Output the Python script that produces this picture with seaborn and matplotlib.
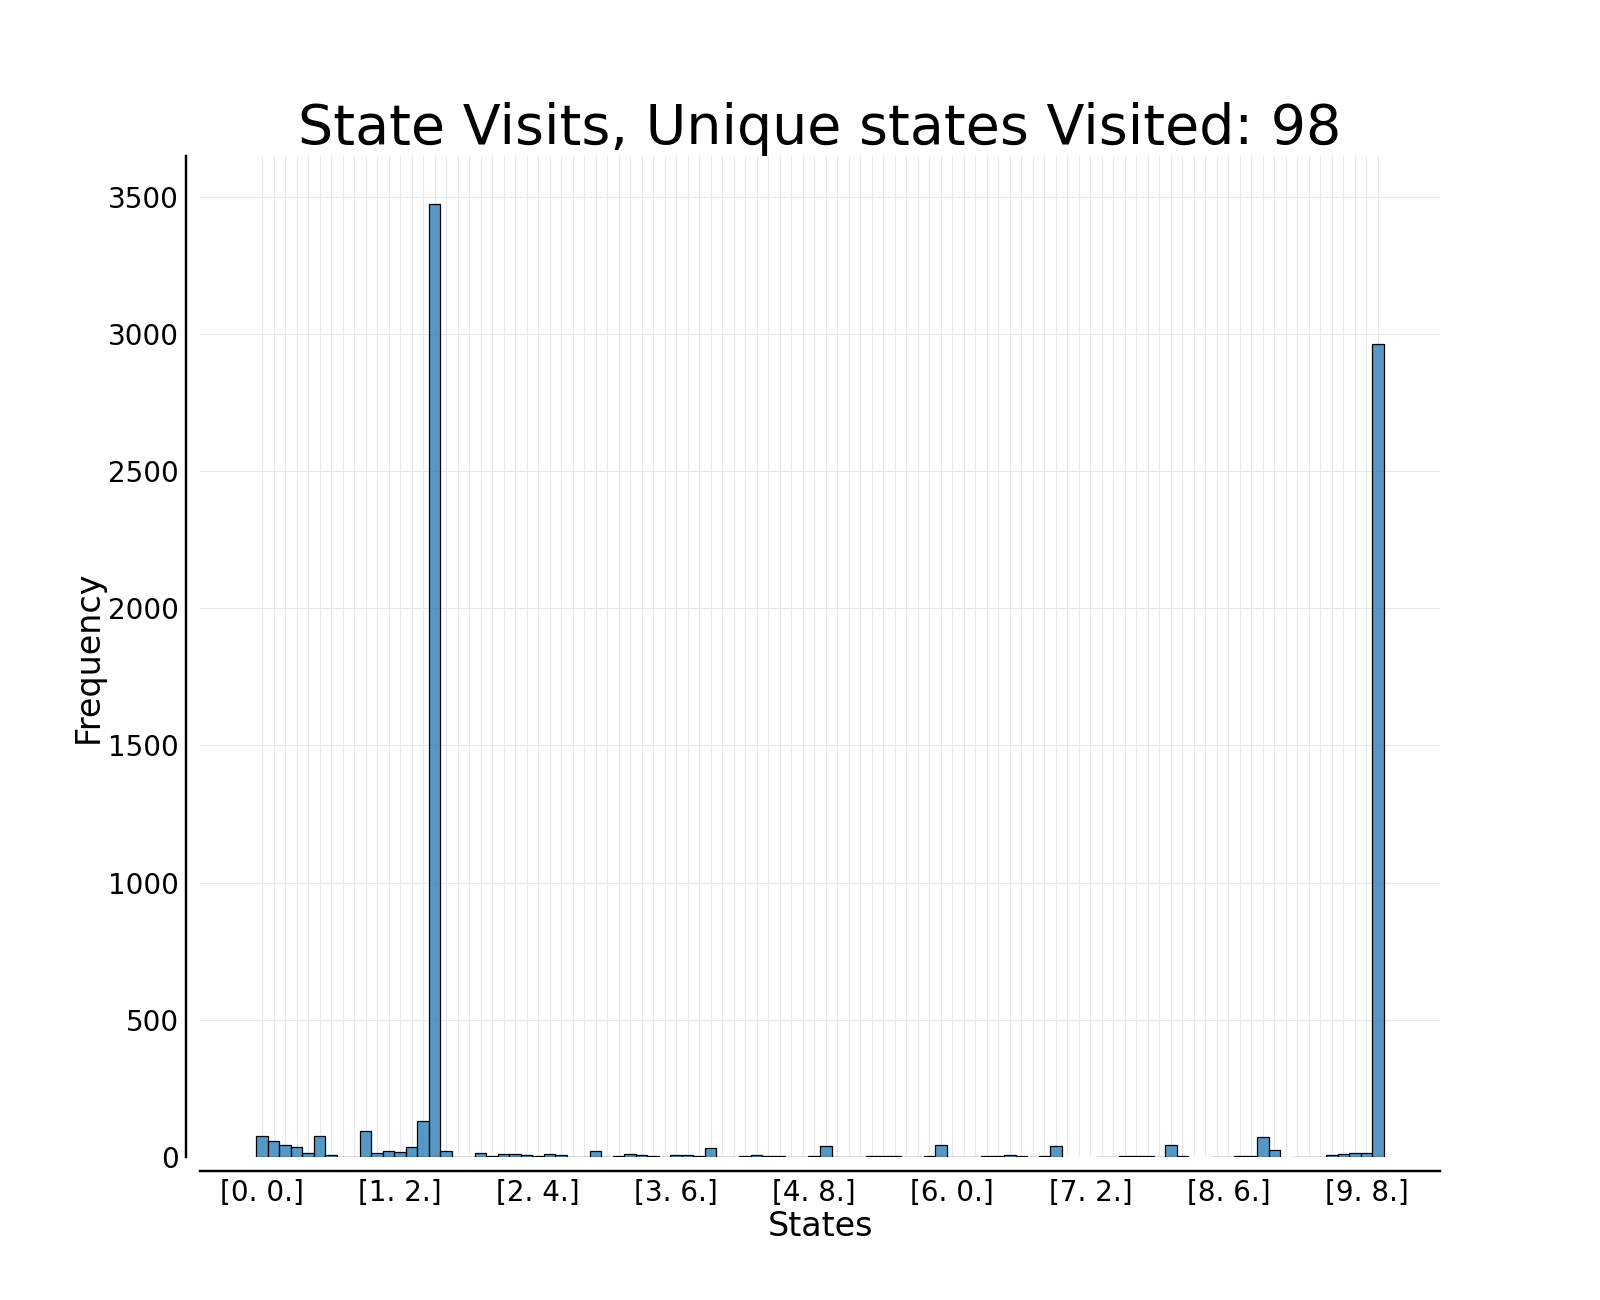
import matplotlib
matplotlib.use('Agg')
import matplotlib.pyplot as plt
import seaborn as sns
import pandas as pd
import numpy as np

# visit counts per state index (0 = not visited)
visit_counts = [
    78, 60, 45, 38, 16, 78, 6, 1, 1, 96,
    16, 23, 20, 38, 132, 3474, 22, 1, 1, 15,
    5, 11, 11, 7, 5, 11, 7, 1, 1, 22,
    1, 4, 11, 7, 4, 1, 7, 7, 4, 33,
    1, 1, 4, 7, 4, 4, 1, 1, 4, 40,
    1, 1, 1, 4, 4, 4, 1, 1, 4, 45,
    1, 1, 1, 4, 4, 7, 4, 1, 4, 40,
    0, 0, 0, 1, 1, 4, 4, 4, 1, 44,
    4, 0, 0, 1, 1, 4, 4, 73, 26, 0,
    1, 1, 1, 7, 12, 15, 15, 2963,
]
tick_labels = ['[0. 0.]', '[1. 2.]', '[2. 4.]', '[3. 6.]', '[4. 8.]',
               '[6. 0.]', '[7. 2.]', '[8. 6.]', '[9. 8.]']
unique_visited = 98

df = pd.DataFrame({'state': np.arange(len(visit_counts)), 'count': visit_counts})

sns.set_style('white')
plt.rcParams.update({'text.color': 'black', 'axes.labelcolor': 'black',
                     'xtick.color': 'black', 'ytick.color': 'black'})
fig, ax = plt.subplots(figsize=(16, 13), dpi=100)

sns.histplot(data=df, x='state', weights='count', discrete=True,
             edgecolor='black', linewidth=0.9, ax=ax)

# hide empty bins
for p in ax.patches:
    if p.get_height() == 0:
        p.set_visible(False)

n = len(visit_counts)
ax.set_xticks(range(n))
labels = [''] * n
for i, lab in enumerate(tick_labels):
    labels[i * 12] = lab
ax.set_xticklabels(labels)

ax.set_axisbelow(True)
ax.grid(True, color='0.91', linewidth=0.8)
ax.tick_params(axis='x', length=0, pad=6, labelsize=20)
ax.tick_params(axis='y', length=0, pad=5, labelsize=20)

ax.set_title(f'State Visits, Unique states Visited: {unique_visited}', fontsize=40, pad=9)
ax.set_xlabel('States', fontsize=24, labelpad=2)
ax.set_ylabel('Frequency', fontsize=24, labelpad=2.5)

sns.despine(ax=ax, offset=10)
for side in ['left', 'bottom']:
    ax.spines[side].set_color('black')
    ax.spines[side].set_linewidth(1.75)

fig.savefig('out.png', dpi=100)
